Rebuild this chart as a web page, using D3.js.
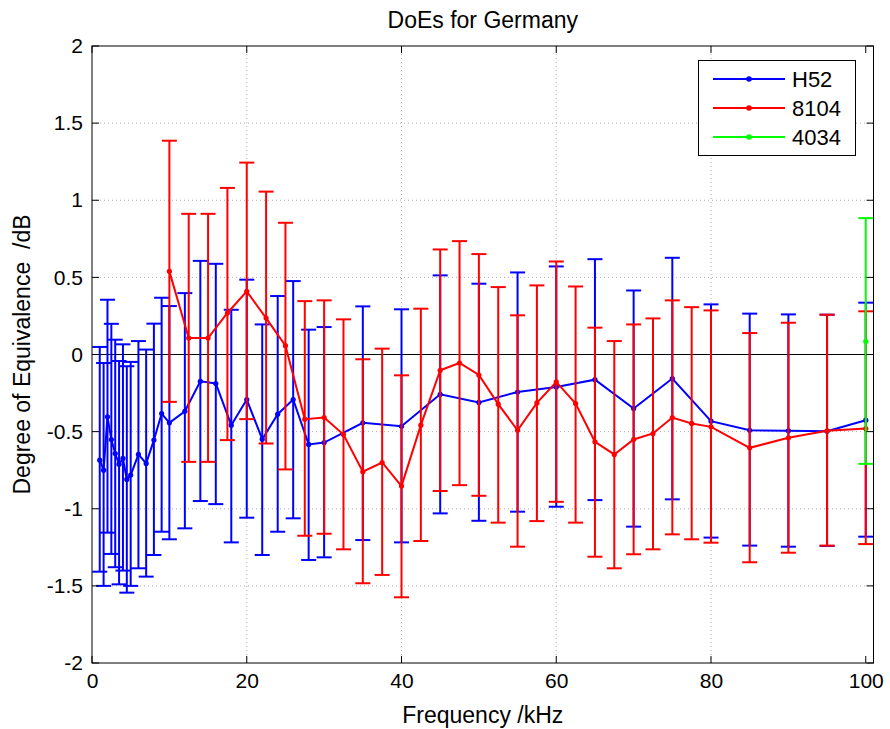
<!DOCTYPE html>
<html>
<head>
<meta charset="utf-8">
<script src="https://cdn.jsdelivr.net/npm/d3@7"></script>
<style>
  html, body { margin: 0; padding: 0; background: #fff; }
  svg text { font-family: "Liberation Sans", Arial, Helvetica, sans-serif; white-space: pre; }
</style>
</head>
<body>
<svg id="chart" width="890" height="729"></svg>
<script>
// ---- data ----
const h52Freq = [1, 1.5, 2, 2.5, 3, 3.5, 4, 4.5, 5, 6, 7, 8, 9, 10, 12, 14, 16, 18, 20, 22, 24, 26, 28, 30, 35, 40, 45, 50, 55, 60, 65, 70, 75, 80, 85, 90, 95, 100];
const h52Value = [-0.685, -0.75, -0.404, -0.551, -0.642, -0.711, -0.674, -0.81, -0.782, -0.648, -0.706, -0.555, -0.383, -0.443, -0.368, -0.174, -0.188, -0.458, -0.292, -0.549, -0.387, -0.292, -0.583, -0.571, -0.443, -0.465, -0.258, -0.311, -0.243, -0.21, -0.163, -0.35, -0.156, -0.432, -0.491, -0.495, -0.497, -0.426];
const h52Upper = [0.049, -0.055, 0.355, 0.199, 0.096, -0.042, 0.066, -0.076, -0.048, 0.087, 0.032, 0.2, 0.368, 0.314, 0.398, 0.607, 0.588, 0.29, 0.485, 0.195, 0.379, 0.476, 0.161, 0.178, 0.312, 0.293, 0.513, 0.459, 0.532, 0.571, 0.618, 0.415, 0.627, 0.325, 0.265, 0.26, 0.258, 0.336];
const h52Lower = [-1.408, -1.5, -1.155, -1.293, -1.379, -1.49, -1.401, -1.544, -1.5, -1.386, -1.44, -1.3, -1.149, -1.198, -1.127, -0.95, -0.97, -1.218, -1.058, -1.30, -1.149, -1.062, -1.332, -1.315, -1.203, -1.218, -1.03, -1.078, -1.019, -0.987, -0.944, -1.116, -0.939, -1.187, -1.239, -1.246, -1.241, -1.181];

const s8104Freq = [10, 12.5, 15, 17.5, 20, 22.5, 25, 27.5, 30, 32.5, 35, 37.5, 40, 42.5, 45, 47.5, 50, 52.5, 55, 57.5, 60, 62.5, 65, 67.5, 70, 72.5, 75, 77.5, 80, 85, 90, 95, 100];
const s8104Value = [0.539, 0.107, 0.107, 0.269, 0.409, 0.236, 0.057, -0.419, -0.409, -0.519, -0.76, -0.70, -0.853, -0.458, -0.102, -0.055, -0.133, -0.322, -0.491, -0.314, -0.178, -0.318, -0.566, -0.648, -0.551, -0.512, -0.409, -0.447, -0.469, -0.605, -0.54, -0.495, -0.48];
const s8104Upper = [1.386, 0.912, 0.912, 1.08, 1.244, 1.056, 0.854, 0.346, 0.351, 0.228, -0.031, 0.038, -0.135, 0.297, 0.681, 0.735, 0.651, 0.437, 0.254, 0.448, 0.603, 0.441, 0.174, 0.087, 0.195, 0.234, 0.351, 0.307, 0.286, 0.139, 0.206, 0.258, 0.28];
const s8104Lower = [-0.307, -0.696, -0.696, -0.555, -0.419, -0.577, -0.745, -1.175, -1.162, -1.263, -1.483, -1.429, -1.574, -1.209, -0.885, -0.847, -0.916, -1.09, -1.246, -1.08, -0.955, -1.09, -1.311, -1.386, -1.295, -1.263, -1.166, -1.198, -1.22, -1.347, -1.285, -1.239, -1.229];

const s4034Freq = [100];
const s4034Value = [0.085];
const s4034Upper = [0.884];
const s4034Lower = [-0.709];

const seriesNames = ["H52", "8104", "4034"];
const seriesColors = ["#0000ff", "#ff0000", "#00ff00"];
const xTicks = [0, 20, 40, 60, 80, 100];
const yTicks = [-2, -1.5, -1, -0.5, 0, 0.5, 1, 1.5, 2];

const titleText = "DoEs for Germany";
const xLabelText = "Frequency /kHz";
const yLabelText = "Degree of Equivalence  /dB";

(function () {
// ---- layout ----
const pL = 92, pR = 873.5, pT = 46, pB = 663;
const x = d3.scaleLinear().domain([0, 101]).range([pL, pR]);
const y = d3.scaleLinear().domain([-2, 2]).range([pB, pT]);
const tickFont = 21, labelFont = 23;

const svg = d3.select("#chart");

// grid
const grid = svg.append("g");
grid.selectAll("line.gx").data(xTicks.filter(d => d > 0 && d < 100)).enter().append("line")
  .attr("x1", d => x(d)).attr("x2", d => x(d)).attr("y1", pT).attr("y2", pB)
  .attr("stroke", "#b0b0b0").attr("stroke-width", 1).attr("stroke-dasharray", "1,3");
grid.selectAll("line.gy").data(yTicks.filter(d => d > -2 && d < 2)).enter().append("line")
  .attr("x1", pL).attr("x2", pR).attr("y1", d => y(d)).attr("y2", d => y(d))
  .attr("stroke", "#b0b0b0").attr("stroke-width", 1).attr("stroke-dasharray", "1,3");

// zero line
svg.append("line").attr("x1", pL).attr("x2", pR).attr("y1", y(0)).attr("y2", y(0))
  .attr("stroke", "#000").attr("stroke-width", 1.2);

function drawSeries(freq, val, up, lo, color) {
  const g = svg.append("g");
  const data = freq.map((f, i) => ({ f, v: val[i], u: up[i], l: lo[i] }));
  const cap = 7.5;
  g.selectAll("line.eb").data(data).enter().append("line")
    .attr("x1", d => x(d.f)).attr("x2", d => x(d.f))
    .attr("y1", d => y(d.u)).attr("y2", d => y(d.l))
    .attr("stroke", color).attr("stroke-width", 2);
  g.selectAll("line.cu").data(data).enter().append("line")
    .attr("x1", d => x(d.f) - cap).attr("x2", d => x(d.f) + cap)
    .attr("y1", d => y(d.u)).attr("y2", d => y(d.u))
    .attr("stroke", color).attr("stroke-width", 2);
  g.selectAll("line.cl").data(data).enter().append("line")
    .attr("x1", d => x(d.f) - cap).attr("x2", d => x(d.f) + cap)
    .attr("y1", d => y(d.l)).attr("y2", d => y(d.l))
    .attr("stroke", color).attr("stroke-width", 2);
  const line = d3.line().x(d => x(d.f)).y(d => y(d.v));
  g.append("path").datum(data).attr("d", line)
    .attr("fill", "none").attr("stroke", color).attr("stroke-width", 2);
  g.selectAll("circle").data(data).enter().append("circle")
    .attr("cx", d => x(d.f)).attr("cy", d => y(d.v)).attr("r", 2.6)
    .attr("fill", color);
}

drawSeries(h52Freq, h52Value, h52Upper, h52Lower, seriesColors[0]);
drawSeries(s8104Freq, s8104Value, s8104Upper, s8104Lower, seriesColors[1]);
drawSeries(s4034Freq, s4034Value, s4034Upper, s4034Lower, seriesColors[2]);

// axes box
svg.append("rect").attr("x", pL).attr("y", pT).attr("width", pR - pL).attr("height", pB - pT)
  .attr("fill", "none").attr("stroke", "#000").attr("stroke-width", 1);

// ticks (inside) + labels via d3 axes
const tickLen = 7;
const xAxisB = d3.axisBottom(x).tickValues(xTicks).tickSize(0).tickPadding(10).tickFormat(d3.format("d"));
const gxb = svg.append("g").attr("transform", `translate(0,${pB})`).call(xAxisB);
gxb.select(".domain").remove();
gxb.selectAll("text").attr("font-size", tickFont).attr("fill", "#000").attr("font-family", "Liberation Sans, Arial, sans-serif");
svg.append("g").selectAll("line").data(xTicks).enter().append("line")
  .attr("x1", d => x(d)).attr("x2", d => x(d)).attr("y1", pB).attr("y2", pB - tickLen)
  .attr("stroke", "#000");
svg.append("g").selectAll("line").data(xTicks).enter().append("line")
  .attr("x1", d => x(d)).attr("x2", d => x(d)).attr("y1", pT).attr("y2", pT + tickLen)
  .attr("stroke", "#000");

const yFmt = d => String(d);
const yAxisL = d3.axisLeft(y).tickValues(yTicks).tickSize(0).tickPadding(9).tickFormat(yFmt);
const gyl = svg.append("g").attr("transform", `translate(${pL},0)`).call(yAxisL);
gyl.select(".domain").remove();
gyl.selectAll("text").attr("font-size", tickFont).attr("fill", "#000").attr("font-family", "Liberation Sans, Arial, sans-serif");
svg.append("g").selectAll("line").data(yTicks).enter().append("line")
  .attr("x1", pL).attr("x2", pL + tickLen).attr("y1", d => y(d)).attr("y2", d => y(d))
  .attr("stroke", "#000");
svg.append("g").selectAll("line").data(yTicks).enter().append("line")
  .attr("x1", pR).attr("x2", pR - tickLen).attr("y1", d => y(d)).attr("y2", d => y(d))
  .attr("stroke", "#000");

// labels
svg.append("text").attr("x", (pL + pR) / 2).attr("y", 28).attr("text-anchor", "middle")
  .attr("font-size", labelFont).text(titleText);
svg.append("text").attr("x", (pL + pR) / 2).attr("y", 723).attr("text-anchor", "middle")
  .attr("font-size", labelFont).text(xLabelText);
svg.append("text").attr("transform", `translate(30,${(pT + pB) / 2}) rotate(-90)`)
  .attr("text-anchor", "middle").attr("font-size", labelFont).text(yLabelText);

// legend
const lg = svg.append("g");
lg.append("rect").attr("x", 698.5).attr("y", 60.5).attr("width", 157).attr("height", 95)
  .attr("fill", "#fff").attr("stroke", "#000").attr("stroke-width", 1);
seriesNames.forEach((name, i) => {
  const ly = 79 + i * 29;
  lg.append("line").attr("x1", 713).attr("x2", 785).attr("y1", ly).attr("y2", ly)
    .attr("stroke", seriesColors[i]).attr("stroke-width", 2);
  lg.append("circle").attr("cx", 749).attr("cy", ly).attr("r", 2.8).attr("fill", seriesColors[i]);
  lg.append("text").attr("x", 792).attr("y", ly + 8).attr("font-size", 22).text(name);
});
})();
</script>
</body>
</html>
